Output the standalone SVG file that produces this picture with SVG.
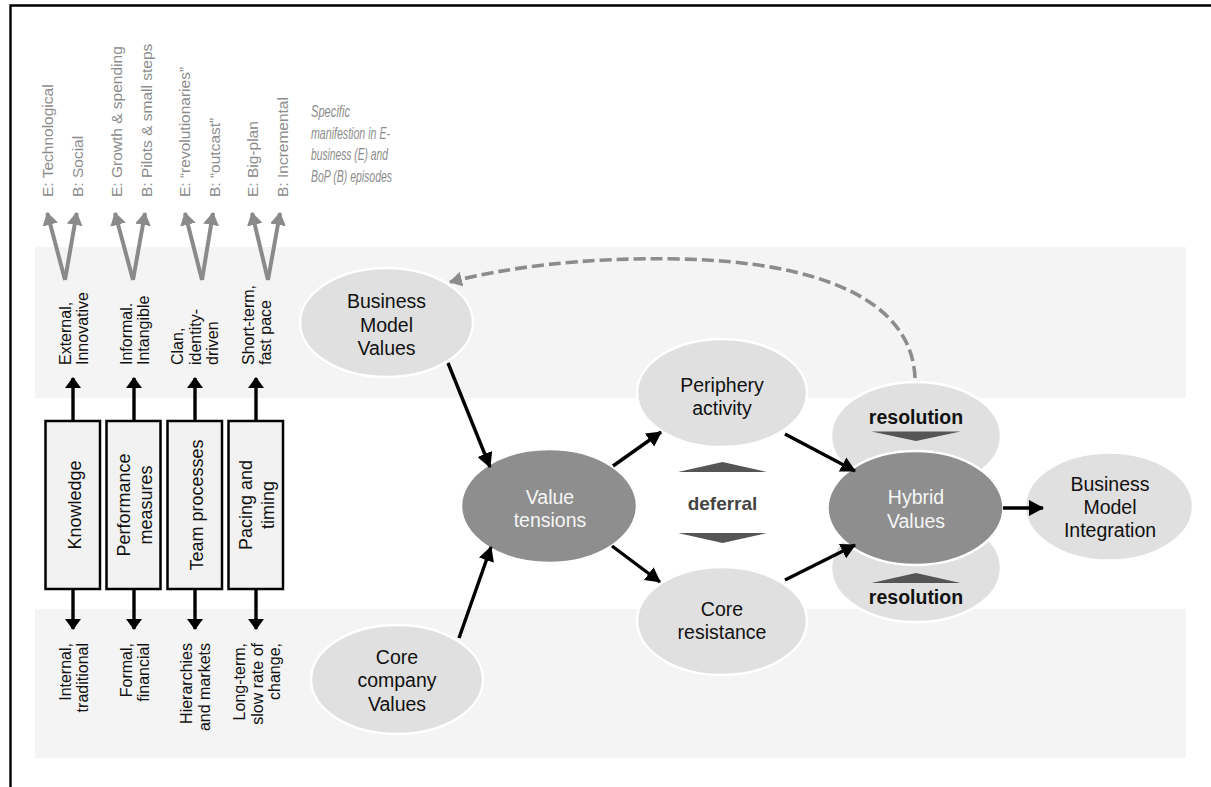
<svg xmlns="http://www.w3.org/2000/svg" width="1211" height="787" viewBox="0 0 1211 787">
  <defs>
    <style>
      text { font-family: "Liberation Sans", Arial, Helvetica, sans-serif; }
      .band { fill: #f4f4f4; }
      .frame { stroke: #000; stroke-width: 2.4; fill: none; }
      .ep { font-size: 15.5px; fill: #8c8c8c; }
      .note { font-size: 17px; font-style: italic; fill: #8c8c8c; }
      .pole { font-size: 16px; fill: #111; }
      .dim rect { fill: #f2f2f2; stroke: #000; stroke-width: 2.5; }
      .dim text { font-size: 18px; fill: #111; text-anchor: middle; }
      .light ellipse { fill: #e0e0e0; stroke: #fff; stroke-width: 2.5; }
      .dark ellipse { fill: #8e8e8e; stroke: #fff; stroke-width: 2.5; }
      .light text { font-size: 19.5px; fill: #111; text-anchor: middle; }
      .dark text { font-size: 19.5px; fill: #f6f6f6; text-anchor: middle; }
      .tag { font-size: 19px; font-weight: bold; fill: #444; text-anchor: middle; }
      .tri { fill: #555; }
      .arrow { stroke: #000; stroke-width: 3.4; fill: none; marker-end: url(#ah); }
      .stub { stroke: #000; stroke-width: 3.4; fill: none; marker-end: url(#ahs); }
      .fork { stroke: #8a8a8a; stroke-width: 4; fill: none; marker-end: url(#ahg); }
      .loop { stroke: #8c8c8c; stroke-width: 3.6; fill: none; stroke-dasharray: 12 5; marker-end: url(#ahd); }
    </style>
    <marker id="ah" viewBox="0 0 15 16" refX="14" refY="8" markerWidth="15" markerHeight="16" markerUnits="userSpaceOnUse" orient="auto">
      <path d="M0,0 L15,8 L0,16 z" fill="#000"/>
    </marker>
    <marker id="ahs" viewBox="0 0 11 16" refX="10" refY="8" markerWidth="11" markerHeight="16" markerUnits="userSpaceOnUse" orient="auto">
      <path d="M0,0 L11,8 L0,16 z" fill="#000"/>
    </marker>
    <marker id="ahg" viewBox="0 0 13 16" refX="12" refY="8" markerWidth="13" markerHeight="16" markerUnits="userSpaceOnUse" orient="auto">
      <path d="M0,0 L13,8 L0,16 z" fill="#8a8a8a"/>
    </marker>
    <marker id="ahd" viewBox="0 0 13 15" refX="12" refY="7.5" markerWidth="13" markerHeight="15" markerUnits="userSpaceOnUse" orient="auto">
      <path d="M0,0 L13,7.5 L0,15 z" fill="#8c8c8c"/>
    </marker>
  </defs>

  <rect width="1211" height="787" fill="#fff"/>

  <!-- horizontal bands -->
  <rect class="band" x="35" y="247" width="1151" height="151"/>
  <rect class="band" x="35" y="609" width="1151" height="149"/>

  <!-- frame -->
  <path class="frame" d="M10.5,787 L10.5,5.5 L1211,5.5"/>

  <!-- episode manifestations -->
  <g id="episodes">
    <text class="ep" transform="translate(52.5,197) rotate(-90)">E: Technological</text>
    <text class="ep" transform="translate(83,197) rotate(-90)">B: Social</text>
    <text class="ep" transform="translate(121.5,197) rotate(-90)">E: Growth &amp; spending</text>
    <text class="ep" transform="translate(151.5,197) rotate(-90)">B: Pilots &amp; small steps</text>
    <text class="ep" transform="translate(189.5,197) rotate(-90)">E: “revolutionaries”</text>
    <text class="ep" transform="translate(220,197) rotate(-90)">B: “outcast”</text>
    <text class="ep" transform="translate(257.5,197) rotate(-90)">E: Big-plan</text>
    <text class="ep" transform="translate(287.5,197) rotate(-90)">B: Incremental</text>
  </g>

  <g id="note">
    <text class="note" x="311" y="117" textLength="39" lengthAdjust="spacingAndGlyphs">Specific</text>
    <text class="note" x="311" y="138.5" textLength="79" lengthAdjust="spacingAndGlyphs">manifestion in E-</text>
    <text class="note" x="311" y="160" textLength="77" lengthAdjust="spacingAndGlyphs">business (E) and</text>
    <text class="note" x="311" y="181.5" textLength="81" lengthAdjust="spacingAndGlyphs">BoP (B) episodes</text>
  </g>

  <!-- upper poles -->
  <g id="poles-upper">
    <text class="pole" transform="translate(71,365) rotate(-90)"><tspan x="0" y="0">External,</tspan><tspan x="0" y="17.3">Innovative</tspan></text>
    <text class="pole" transform="translate(131.7,365) rotate(-90)"><tspan x="0" y="0">Informal.</tspan><tspan x="0" y="17.5">Intangible</tspan></text>
    <text class="pole" transform="translate(183.3,365) rotate(-90)"><tspan x="0" y="0">Clan,</tspan><tspan x="0" y="17.3">identity-</tspan><tspan x="0" y="34.6">driven</tspan></text>
    <text class="pole" transform="translate(254,365) rotate(-90)"><tspan x="0" y="0">Short-term,</tspan><tspan x="0" y="17.3">fast pace</tspan></text>
  </g>

  <!-- lower poles -->
  <g id="poles-lower">
    <text class="pole" text-anchor="end" transform="translate(71,643) rotate(-90)"><tspan x="0" y="0">Internal,</tspan><tspan x="0" y="17.3">traditional</tspan></text>
    <text class="pole" text-anchor="end" transform="translate(131.7,643) rotate(-90)"><tspan x="0" y="0">Formal,</tspan><tspan x="0" y="17.3">financial</tspan></text>
    <text class="pole" text-anchor="end" transform="translate(192.3,643) rotate(-90)"><tspan x="0" y="0">Hierarchies</tspan><tspan x="0" y="18">and markets</tspan></text>
    <text class="pole" text-anchor="end" transform="translate(245,643) rotate(-90)"><tspan x="0" y="0">Long-term,</tspan><tspan x="0" y="17.6">slow rate of</tspan><tspan x="0" y="35.2">change,</tspan></text>
  </g>

  <!-- value dimensions -->
  <g id="knowledge" class="dim">
    <rect x="45.5" y="421" width="54.5" height="168"/>
    <text transform="translate(81,505) rotate(-90)">Knowledge</text>
  </g>
  <g id="performance" class="dim">
    <rect x="106.5" y="421" width="54" height="168"/>
    <text transform="translate(130,505) rotate(-90)"><tspan x="0" y="0">Performance</tspan><tspan x="0" y="22">measures</tspan></text>
  </g>
  <g id="team" class="dim">
    <rect x="167.5" y="421" width="54.5" height="168"/>
    <text transform="translate(203,505) rotate(-90)">Team processes</text>
  </g>
  <g id="pacing" class="dim">
    <rect x="228.5" y="421" width="54.5" height="168"/>
    <text transform="translate(252,505) rotate(-90)"><tspan x="0" y="0">Pacing and</tspan><tspan x="0" y="22">timing</tspan></text>
  </g>

  <!-- value nodes -->
  <g id="bm-values" class="light">
    <ellipse cx="386.5" cy="322.5" rx="86.5" ry="54.5"/>
    <text x="386.5" y="308">Business</text>
    <text x="386.5" y="331.5">Model</text>
    <text x="386.5" y="355">Values</text>
  </g>
  <g id="core-values" class="light">
    <ellipse cx="397" cy="679.5" rx="86" ry="54.5"/>
    <text x="397" y="664">Core</text>
    <text x="397" y="687">company</text>
    <text x="397" y="710.5">Values</text>
  </g>
  <g id="tensions" class="dark">
    <ellipse cx="549" cy="506" rx="88" ry="57"/>
    <text x="550" y="504">Value</text>
    <text x="550" y="527">tensions</text>
  </g>
  <g id="periphery" class="light">
    <ellipse cx="722" cy="393" rx="85" ry="54"/>
    <text x="722" y="391.5">Periphery</text>
    <text x="722" y="414.5">activity</text>
  </g>
  <g id="resistance" class="light">
    <ellipse cx="722" cy="621" rx="85" ry="54"/>
    <text x="722" y="616">Core</text>
    <text x="722" y="639">resistance</text>
  </g>

  <g id="deferral">
    <path class="tri" d="M678,472 L767,472 L722.5,462 z"/>
    <text class="tag" x="722.5" y="510">deferral</text>
    <path class="tri" d="M678,533 L767,533 L722.5,543 z"/>
  </g>

  <g id="resolution-upper" class="light">
    <ellipse cx="916" cy="436" rx="85" ry="54"/>
    <text class="tag" x="916" y="424">resolution</text>
    <path class="tri" d="M871.5,431.5 L960.5,431.5 L916,441 z"/>
  </g>
  <g id="resolution-lower" class="light">
    <ellipse cx="916" cy="568" rx="85" ry="54"/>
    <path class="tri" d="M871.5,583 L960.5,583 L916,573 z"/>
    <text class="tag" x="916" y="604">resolution</text>
  </g>

  <g id="hybrid" class="dark">
    <ellipse cx="915.5" cy="508" rx="88" ry="57"/>
    <text x="916" y="504">Hybrid</text>
    <text x="916" y="528">Values</text>
  </g>

  <g id="integration" class="light">
    <ellipse cx="1109" cy="506.5" rx="84" ry="54"/>
    <text x="1110" y="491">Business</text>
    <text x="1110" y="514">Model</text>
    <text x="1110" y="537">Integration</text>
  </g>

  <!-- connectors -->
  <g id="connectors">
    <path class="fork" d="M65,280 L47.3,213"/>
    <path class="fork" d="M65,280 L76.7,213"/>
    <path class="fork" d="M133,280 L115,213"/>
    <path class="fork" d="M133,280 L145,213"/>
    <path class="fork" d="M202,280 L185,213"/>
    <path class="fork" d="M202,280 L213,213"/>
    <path class="fork" d="M268,280 L252,213"/>
    <path class="fork" d="M268,280 L280,213"/>

    <path class="stub" d="M73,421 L73,378"/>
    <path class="stub" d="M134,421 L134,378"/>
    <path class="stub" d="M195,421 L195,378"/>
    <path class="stub" d="M256,421 L256,378"/>
    <path class="stub" d="M73,589 L73,629"/>
    <path class="stub" d="M134,589 L134,629"/>
    <path class="stub" d="M195,589 L195,629"/>
    <path class="stub" d="M256,589 L256,629"/>

    <path class="arrow" d="M448,363 L490,467"/>
    <path class="arrow" d="M459,638 L491,547"/>
    <path class="arrow" d="M613,466 L661,432"/>
    <path class="arrow" d="M612,546 L660,582"/>
    <path class="arrow" d="M785,434 L855,471"/>
    <path class="arrow" d="M785,580 L855,545"/>
    <path class="arrow" d="M1003,508 L1043,508"/>

    <path class="loop" d="M915,378 C912,300 820,262 680,259 C580,257 505,268 450,282"/>
  </g>
</svg>
